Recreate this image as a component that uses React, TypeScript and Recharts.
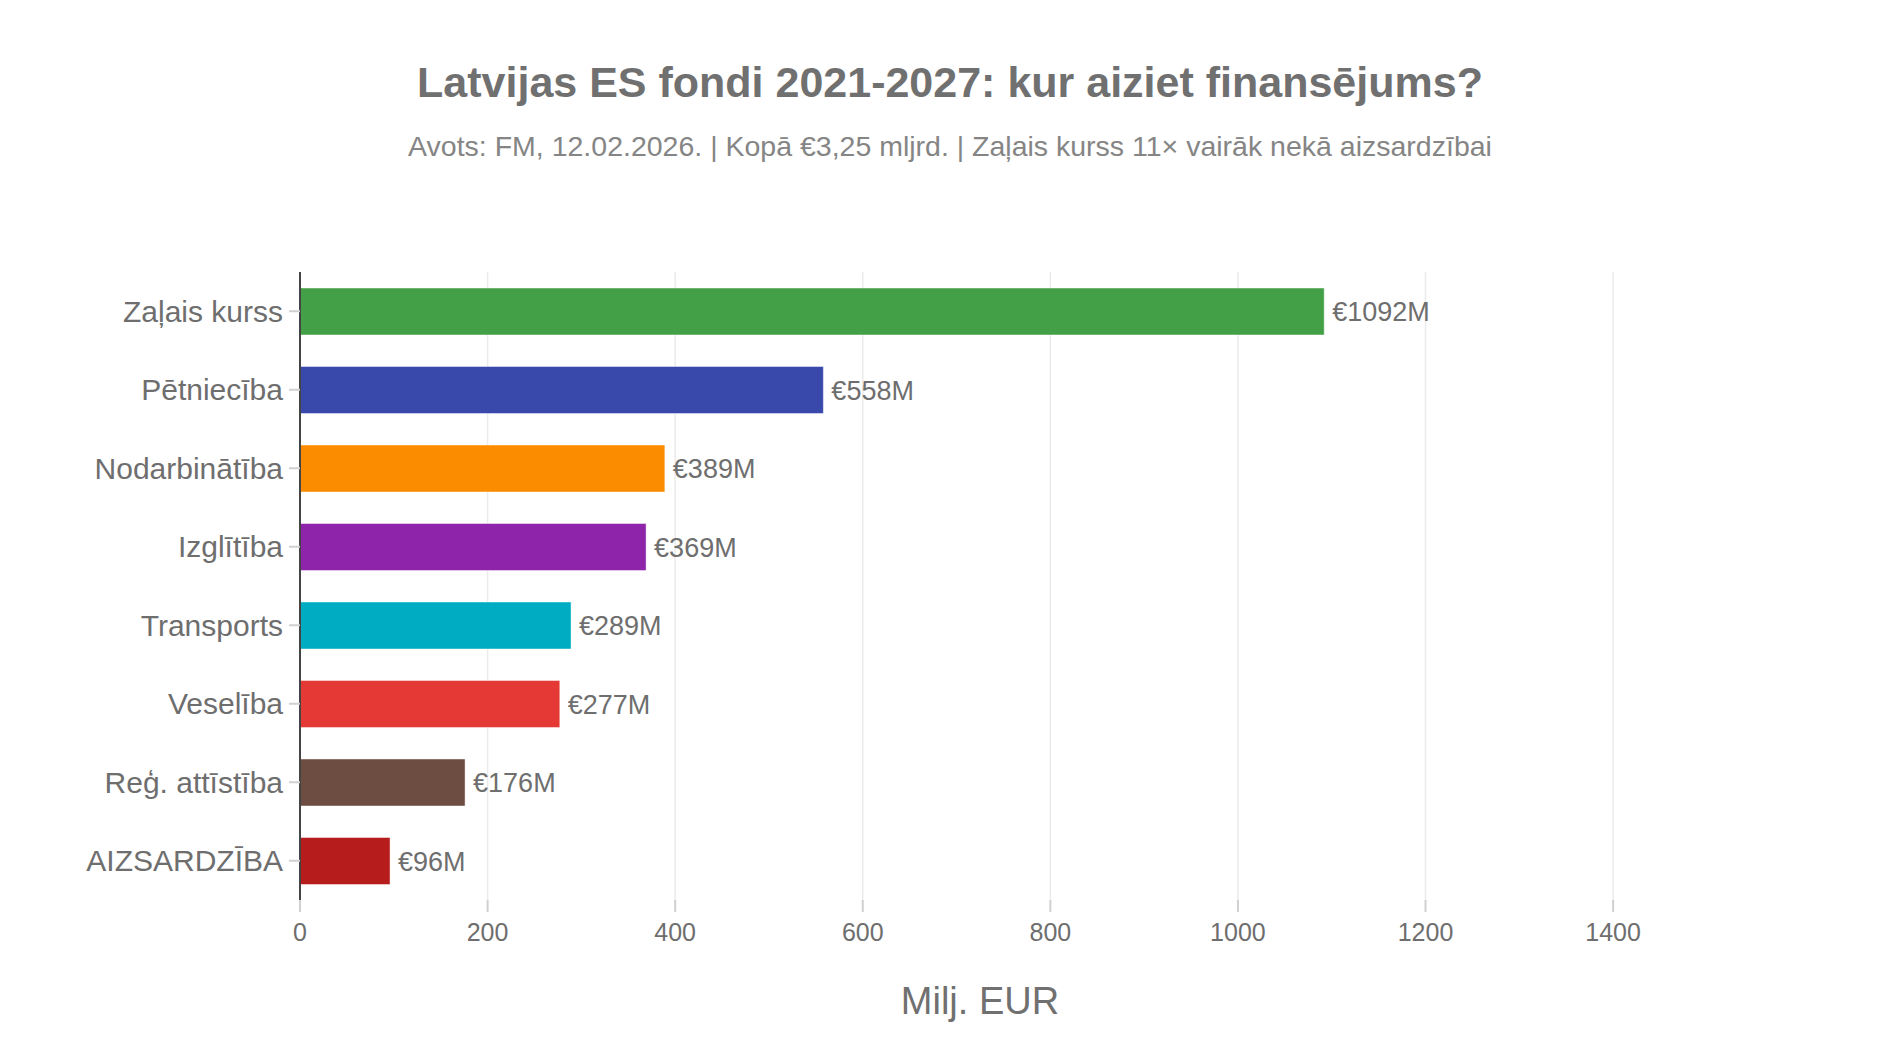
import React from "react"
import { BarChart, Bar, XAxis, YAxis, CartesianGrid, Cell, LabelList } from "recharts"

const categories = [
  "Zaļais kurss",
  "Pētniecība",
  "Nodarbinātība",
  "Izglītība",
  "Transports",
  "Veselība",
  "Reģ. attīstība",
  "AIZSARDZĪBA",
]
const amounts = [1092, 558, 389, 369, 289, 277, 176, 96]
const barColors = ["#43a047", "#3949ab", "#fb8c00", "#8e24aa", "#00acc1", "#e53935", "#6d4c41", "#b71c1c"]
const xTicks = [0, 200, 400, 600, 800, 1000, 1200, 1400]
const xMax = 1450

const title = "Latvijas ES fondi 2021-2027: kur aiziet finansējums?"
const subtitle = "Avots: FM, 12.02.2026. | Kopā €3,25 mljrd. | Zaļais kurss 11× vairāk nekā aizsardzībai"
const xTitle = "Milj. EUR"

const FONT = "'Liberation Sans', Arial, Helvetica, sans-serif"
const TEXT = "#6e6e6e"

const data = categories.map((name, i) => ({ name, value: amounts[i] }))

// grid only at the tick values, not at the plot edge
const gridX = ({ offset }: any) => xTicks.map((t) => offset.left + (t / xMax) * offset.width)

export default function App() {
  return (
    <div style={{ position: "absolute", left: 0, top: 0, width: 1900, height: 1040, background: "#fff", fontFamily: FONT }}>
      <BarChart
        width={1900}
        height={1040}
        data={data}
        layout="vertical"
        margin={{ top: 272, right: 240, bottom: 80, left: 0 }}
        barSize={47}
      >
        <CartesianGrid horizontal={false} stroke="#ebebeb" strokeWidth={1.5} verticalCoordinatesGenerator={gridX} />
        <XAxis
          type="number"
          domain={[0, xMax]}
          ticks={xTicks}
          axisLine={false}
          tickLine={{ stroke: "#d0d0d0", strokeWidth: 2 }}
          tickSize={12}
          tickMargin={11}
          height={60}
          tick={{ fill: TEXT, fontSize: 25, fontFamily: FONT }}
          interval={0}
        />
        <YAxis
          type="category"
          dataKey="name"
          width={300}
          axisLine={{ stroke: "#444", strokeWidth: 2 }}
          tickLine={{ stroke: "#d0d0d0", strokeWidth: 2 }}
          tickSize={11}
          tickMargin={6}
          tick={{ fill: TEXT, fontSize: 30, fontFamily: FONT }}
          interval={0}
        />
        <Bar dataKey="value" isAnimationActive={false} stroke="rgba(255,255,255,0.45)" strokeWidth={1}>
          {data.map((d, i) => (
            <Cell key={d.name} fill={barColors[i]} />
          ))}
          <LabelList
            dataKey="value"
            position="right"
            offset={8}
            formatter={(v: number) => `€${v}M`}
            style={{ fill: TEXT, fontSize: 27, fontFamily: FONT }}
          />
        </Bar>
      </BarChart>
      <svg width={1900} height={1040} style={{ position: "absolute", left: 0, top: 0, pointerEvents: "none" }}>
        <text x={950} y={97} textAnchor="middle" fontSize={43} fontWeight="bold" fill="#707070" fontFamily={FONT}>
          {title}
        </text>
        <text x={950} y={156} textAnchor="middle" fontSize={28.5} fill="#858585" fontFamily={FONT}>
          {subtitle}
        </text>
        <text x={980} y={1014} textAnchor="middle" fontSize={38} fill="#707070" fontFamily={FONT}>
          {xTitle}
        </text>
      </svg>
    </div>
  )
}
